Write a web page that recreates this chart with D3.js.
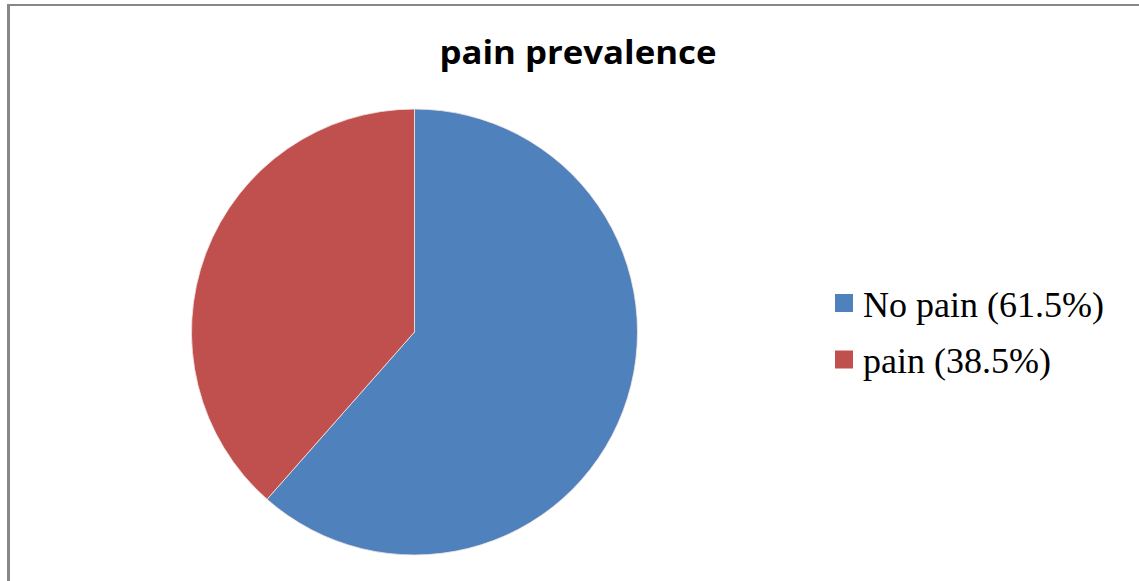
<!DOCTYPE html>
<html>
<head>
<meta charset="utf-8">
<script src="https://cdn.jsdelivr.net/npm/d3@7"></script>
<style>
  html, body { margin: 0; padding: 0; background: #fff; }
  svg { display: block; }
</style>
</head>
<body>
<svg id="chart" width="1139" height="581"></svg>
<script>
// Pain prevalence shares (percent)
const categories = ["No pain", "pain"];
const values = [61.5, 38.5];
const legendLabels = ["No pain (61.5%)", "pain (38.5%)"];
const colors = ["#4F81BD", "#C0504D"];
const title = "pain prevalence";

const svg = d3.select("#chart");
const W = 1139, H = 581;

// chart frame edges
svg.append("line")
  .attr("x1", 8.5).attr("y1", 4).attr("x2", 8.5).attr("y2", H)
  .attr("stroke", "#878787").attr("stroke-width", 3);
svg.append("line")
  .attr("x1", 7).attr("y1", 5).attr("x2", W).attr("y2", 5)
  .attr("stroke", "#878787").attr("stroke-width", 2);

// title, condensed to its intended width
svg.append("text")
  .attr("x", 578).attr("y", 64)
  .attr("text-anchor", "middle")
  .attr("font-family", "'Open Sans', sans-serif")
  .attr("font-weight", "bold")
  .attr("font-size", 33)
  .attr("textLength", 277)
  .attr("lengthAdjust", "spacingAndGlyphs")
  .attr("fill", "#000")
  .text(title);

// pie
const cx = 414.5, cy = 332, r = 223;
const pie = d3.pie().sort(null).value(d => d)(values);
const arc = d3.arc().innerRadius(0).outerRadius(r);
const g = svg.append("g").attr("transform", `translate(${cx},${cy})`);
g.selectAll("path")
  .data(pie)
  .join("path")
  .attr("d", arc)
  .attr("fill", (d, i) => colors[i])
  .attr("stroke", "#f4e6e6")
  .attr("stroke-width", 0.8)
  .attr("stroke-linejoin", "round");

// legend
const leg = svg.append("g");
const items = leg.selectAll("g")
  .data(categories)
  .join("g")
  .attr("transform", (d, i) => `translate(835, ${294 + i * 56.5})`);
items.append("rect")
  .attr("width", 18).attr("height", 18)
  .attr("fill", (d, i) => colors[i]);
items.append("text")
  .attr("x", 28).attr("y", 22.5)
  .attr("font-family", "'Liberation Serif', 'Times New Roman', serif")
  .attr("font-size", 36)
  .attr("fill", "#000")
  .text((d, i) => legendLabels[i]);
</script>
</body>
</html>
